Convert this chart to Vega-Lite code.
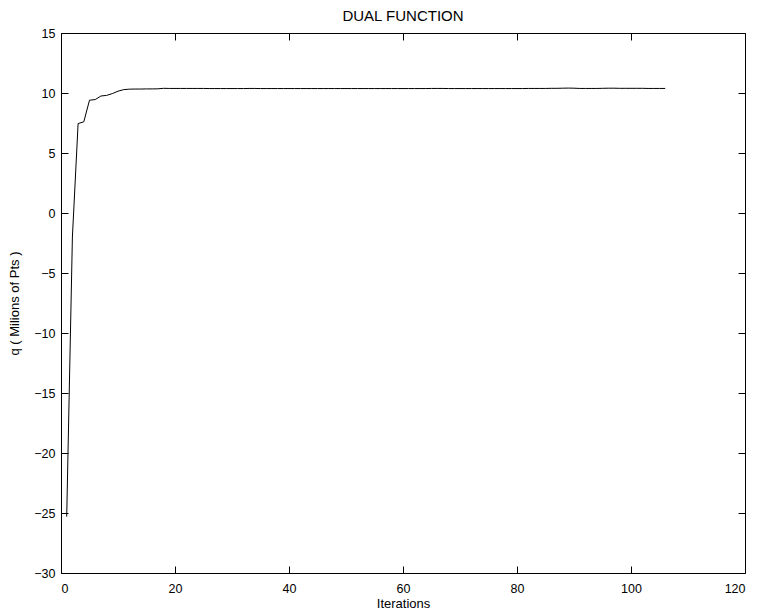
{
  "$schema": "https://vega.github.io/schema/vega-lite/v6.json",
  "width": 684,
  "height": 540,
  "autosize": {"type": "none"},
  "padding": {"left": 61, "top": 33, "right": 17, "bottom": 43},
  "background": "white",
  "config": {
    "view": {"stroke": "black", "strokeWidth": 1},
    "font": "Liberation Sans",
    "axis": {
      "grid": false,
      "domain": false,
      "tickColor": "black",
      "tickSize": -7,
      "tickWidth": 1,
      "labelFont": "Liberation Sans",
      "labelFontSize": 12.5,
      "labelColor": "black",
      "titleFont": "Liberation Sans",
      "titleFontSize": 13,
      "titleFontWeight": "normal",
      "titleColor": "black"
    }
  },
  "title": {
    "text": "DUAL FUNCTION",
    "font": "Liberation Sans",
    "fontSize": 15,
    "fontWeight": "normal",
    "color": "black",
    "offset": 3
  },
  "data": {
    "values": [
      {"it": 1, "q": -25.3}, {"it": 2, "q": -2.0}, {"it": 3, "q": 7.45}, {"it": 4, "q": 7.6},
      {"it": 5, "q": 9.4}, {"it": 6, "q": 9.45}, {"it": 7, "q": 9.75}, {"it": 8, "q": 9.8},
      {"it": 9, "q": 9.95}, {"it": 10, "q": 10.15}, {"it": 11, "q": 10.28}, {"it": 12, "q": 10.32},
      {"it": 13, "q": 10.33}, {"it": 14, "q": 10.33}, {"it": 15, "q": 10.34}, {"it": 16, "q": 10.34},
      {"it": 17, "q": 10.35}, {"it": 18, "q": 10.39}, {"it": 19, "q": 10.38}, {"it": 20, "q": 10.38},
      {"it": 21, "q": 10.38}, {"it": 22, "q": 10.38}, {"it": 23, "q": 10.38}, {"it": 24, "q": 10.38},
      {"it": 25, "q": 10.38}, {"it": 26, "q": 10.37}, {"it": 27, "q": 10.37}, {"it": 28, "q": 10.37},
      {"it": 29, "q": 10.37}, {"it": 30, "q": 10.37}, {"it": 31, "q": 10.37}, {"it": 32, "q": 10.37},
      {"it": 33, "q": 10.38}, {"it": 34, "q": 10.38}, {"it": 35, "q": 10.37}, {"it": 36, "q": 10.37},
      {"it": 37, "q": 10.37}, {"it": 38, "q": 10.37}, {"it": 39, "q": 10.37}, {"it": 40, "q": 10.37},
      {"it": 41, "q": 10.37}, {"it": 42, "q": 10.37}, {"it": 43, "q": 10.37}, {"it": 44, "q": 10.37},
      {"it": 45, "q": 10.37}, {"it": 46, "q": 10.37}, {"it": 47, "q": 10.37}, {"it": 48, "q": 10.37},
      {"it": 49, "q": 10.37}, {"it": 50, "q": 10.37}, {"it": 51, "q": 10.37}, {"it": 52, "q": 10.37},
      {"it": 53, "q": 10.37}, {"it": 54, "q": 10.37}, {"it": 55, "q": 10.37}, {"it": 56, "q": 10.37},
      {"it": 57, "q": 10.37}, {"it": 58, "q": 10.37}, {"it": 59, "q": 10.37}, {"it": 60, "q": 10.37},
      {"it": 61, "q": 10.37}, {"it": 62, "q": 10.37}, {"it": 63, "q": 10.37}, {"it": 64, "q": 10.37},
      {"it": 65, "q": 10.38}, {"it": 66, "q": 10.38}, {"it": 67, "q": 10.38}, {"it": 68, "q": 10.37},
      {"it": 69, "q": 10.37}, {"it": 70, "q": 10.37}, {"it": 71, "q": 10.37}, {"it": 72, "q": 10.37},
      {"it": 73, "q": 10.37}, {"it": 74, "q": 10.37}, {"it": 75, "q": 10.37}, {"it": 76, "q": 10.37},
      {"it": 77, "q": 10.37}, {"it": 78, "q": 10.37}, {"it": 79, "q": 10.37}, {"it": 80, "q": 10.37},
      {"it": 81, "q": 10.37}, {"it": 82, "q": 10.38}, {"it": 83, "q": 10.38}, {"it": 84, "q": 10.38},
      {"it": 85, "q": 10.38}, {"it": 86, "q": 10.39}, {"it": 87, "q": 10.39}, {"it": 88, "q": 10.4},
      {"it": 89, "q": 10.41}, {"it": 90, "q": 10.4}, {"it": 91, "q": 10.38}, {"it": 92, "q": 10.38},
      {"it": 93, "q": 10.38}, {"it": 94, "q": 10.38}, {"it": 95, "q": 10.39}, {"it": 96, "q": 10.4},
      {"it": 97, "q": 10.4}, {"it": 98, "q": 10.39}, {"it": 99, "q": 10.39}, {"it": 100, "q": 10.39},
      {"it": 101, "q": 10.39}, {"it": 102, "q": 10.39}, {"it": 103, "q": 10.38}, {"it": 104, "q": 10.38},
      {"it": 105, "q": 10.38}, {"it": 106, "q": 10.38}
    ]
  },
  "layer": [
    {
      "mark": {"type": "line", "color": "black", "strokeWidth": 1, "clip": true},
      "encoding": {
        "x": {
          "field": "it", "type": "quantitative",
          "scale": {"domain": [0, 120], "nice": false, "zero": false},
          "axis": {"orient": "bottom", "values": [0, 20, 40, 60, 80, 100, 120], "title": "Iterations", "labelPadding": 16, "titlePadding": 3}
        },
        "y": {
          "field": "q", "type": "quantitative",
          "scale": {"domain": [-30, 15], "nice": false, "zero": false},
          "axis": {"orient": "left", "values": [-30, -25, -20, -15, -10, -5, 0, 5, 10, 15], "title": "q ( Milions of Pts )", "labelPadding": 13, "titlePadding": 12}
        }
      }
    },
    {
      "mark": {"type": "line", "opacity": 0},
      "encoding": {
        "x": {
          "field": "it", "type": "quantitative",
          "axis": {"orient": "top", "values": [0, 20, 40, 60, 80, 100, 120], "labels": false, "title": null}
        },
        "y": {
          "field": "q", "type": "quantitative",
          "axis": {"orient": "right", "values": [-30, -25, -20, -15, -10, -5, 0, 5, 10, 15], "labels": false, "title": null}
        }
      }
    }
  ],
  "resolve": {"axis": {"x": "independent", "y": "independent"}}
}
